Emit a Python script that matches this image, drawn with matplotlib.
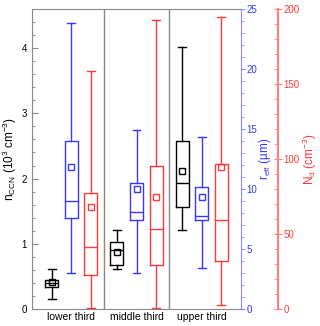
import matplotlib
matplotlib.use("Agg")
import matplotlib.pyplot as plt
from matplotlib.ticker import MultipleLocator

plt.rcParams["font.family"] = ["Liberation Sans", "DejaVu Sans"]
plt.rcParams["mathtext.fontset"] = "custom"
plt.rcParams["mathtext.rm"] = "Liberation Sans"

groups = ["lower third", "middle third", "upper third"]

# n_CCN (10^3 cm^-3)
nccn_lo = [0.16, 0.61, 1.21]
nccn_q1 = [0.34, 0.68, 1.56]
nccn_med = [0.40, 0.90, 1.93]
nccn_q3 = [0.45, 1.02, 2.57]
nccn_hi = [0.62, 1.21, 4.01]
nccn_mean = [0.41, 0.87, 2.12]

# r_eff (um)
reff_lo = [2.97, 2.97, 3.39]
reff_q1 = [7.56, 7.42, 7.44]
reff_med = [9.0, 8.06, 7.75]
reff_q3 = [14.0, 10.5, 10.2]
reff_hi = [23.8, 14.9, 14.3]
reff_mean = [11.8, 10.0, 9.36]

# N_d (cm^-3)
nd_lo = [1.0, 1.0, 3.0]
nd_q1 = [22.7, 29.3, 32.2]
nd_med = [41.5, 53.1, 59.5]
nd_q3 = [77.5, 95.3, 96.9]
nd_hi = [159, 193, 194.5]
nd_mean = [68, 75, 94.5]

GRAY = "#888888"
BLUE = "#3838ff"
RED = "#ff3838"
BLUE_AX = "#8c8cff"
RED_AX = "#ff8080"


def stats(lo, q1, med, q3, hi, mean):
    return [dict(whislo=a, q1=b, med=c, q3=d, whishi=e, mean=f, fliers=[])
            for a, b, c, d, e, f in zip(lo, q1, med, q3, hi, mean)]


def draw(axis, st, offset, color):
    pos = [i + offset for i in range(len(st))]
    lp = dict(color=color, linewidth=1.0)
    axis.bxp(st, positions=pos, widths=0.2, capwidths=0.12, showmeans=True,
             showfliers=False, boxprops=lp, whiskerprops=lp, capprops=lp,
             medianprops=lp,
             meanprops=dict(marker="s", markerfacecolor="none",
                            markeredgecolor=color, markersize=5,
                            markeredgewidth=1.0),
             manage_ticks=False)


fig = plt.figure(figsize=(3.2, 3.26), dpi=100)
ax = fig.add_axes([32 / 320, 17 / 326, 209 / 320, 300 / 326])
ax2 = ax.twinx()
ax3 = ax.twinx()

draw(ax, stats(nccn_lo, nccn_q1, nccn_med, nccn_q3, nccn_hi, nccn_mean), -0.3, "black")
draw(ax2, stats(reff_lo, reff_q1, reff_med, reff_q3, reff_hi, reff_mean), 0.0, BLUE)
draw(ax3, stats(nd_lo, nd_q1, nd_med, nd_q3, nd_hi, nd_mean), 0.3, RED)

for xs in (0.5, 1.5):
    ax.axvline(xs, color=GRAY, linewidth=1)

ax.set_xlim(-0.6, 2.6)
ax.set_ylim(0, 4.6)
ax2.set_ylim(0, 25)
ax3.set_ylim(0, 200)

ax.set_xticks(range(3))
ax.set_xticklabels(groups, fontsize=7.5)
ax.tick_params(axis="x", length=0, pad=2)

ax.yaxis.set_major_locator(MultipleLocator(1))
ax.yaxis.set_minor_locator(MultipleLocator(0.2))
ax.tick_params(axis="y", which="both", direction="in", color=GRAY, labelsize=7)
ax.tick_params(axis="y", which="major", length=4)
ax.tick_params(axis="y", which="minor", length=2)
for s in ["left", "top", "bottom"]:
    ax.spines[s].set_color(GRAY)
ax.spines["right"].set_visible(False)
ax.set_ylabel("n$_{\\rm CCN}$ (10$^3$ cm$^{-3}$)", fontsize=8.5, labelpad=2)

ax2.yaxis.set_major_locator(MultipleLocator(5))
ax2.yaxis.set_minor_locator(MultipleLocator(1))
ax2.tick_params(axis="y", which="both", direction="out", color=BLUE_AX,
                labelcolor=BLUE, labelsize=7, pad=1)
ax2.tick_params(axis="y", which="major", length=3)
ax2.tick_params(axis="y", which="minor", length=2)
ax2.spines["right"].set_color(BLUE_AX)
for s in ["left", "top", "bottom"]:
    ax2.spines[s].set_visible(False)
ax2.set_ylabel("r$_{\\rm eff}$ (\u00b5m)", fontsize=8.5, color=BLUE,
               rotation=90, labelpad=0)

ax3.spines["right"].set_position(("axes", 1 + 37 / 209))
ax3.spines["right"].set_color(RED_AX)
ax3.spines["right"].set_linewidth(1.5)
for s in ["left", "top", "bottom"]:
    ax3.spines[s].set_visible(False)
ax3.yaxis.set_major_locator(MultipleLocator(50))
ax3.yaxis.set_minor_locator(MultipleLocator(10))
ax3.tick_params(axis="y", which="major", direction="inout", length=6,
                color=RED_AX, labelcolor=RED, labelsize=7, pad=1)
ax3.tick_params(axis="y", which="minor", direction="in", length=3, color=RED_AX)
ax3.set_ylabel("N$_{\\rm d}$ (cm$^{-3}$)", fontsize=8.5, color=RED,
               rotation=90, labelpad=1)

fig.savefig("out.png", dpi=100)
